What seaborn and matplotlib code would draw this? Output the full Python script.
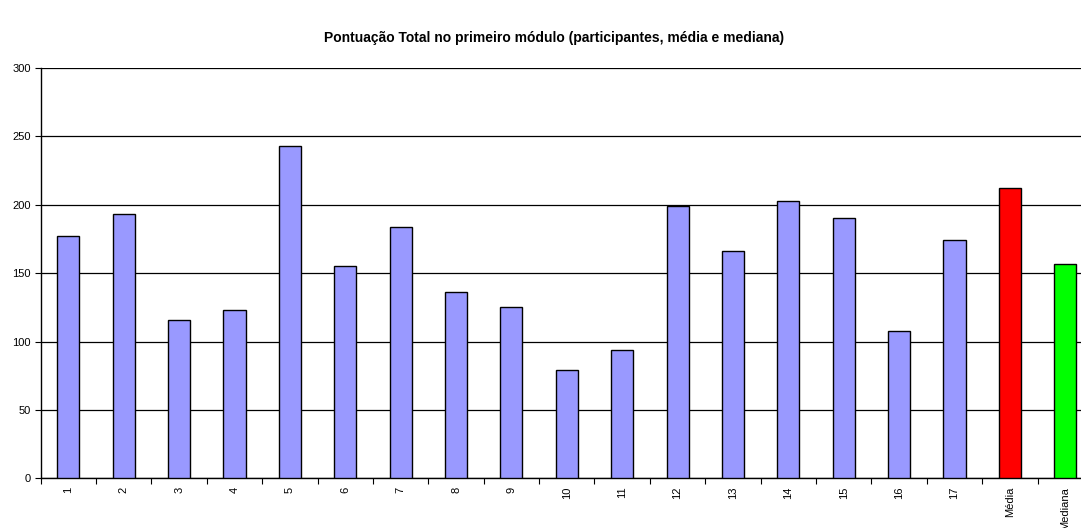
import matplotlib
matplotlib.use("Agg")
import matplotlib.pyplot as plt
import seaborn as sns
import pandas as pd
import numpy as np

# Scores per participant, followed by the summary bars
categorias = [str(i) for i in range(1, 18)] + ["Média", "Mediana"]
pontuacao = [177, 193, 116, 123, 243, 155, 184, 136, 125, 79, 94,
             199, 166, 203, 190, 108, 174, 212, 157]
cores = ["#9999FF"] * 17 + ["#FF0000", "#00FF00"]
yticks = [0, 50, 100, 150, 200, 250, 300]

titulo = "Pontuação Total no primeiro módulo (participantes, média e mediana)"

sns.set_style("white")
plt.rcParams["font.family"] = ["Liberation Sans", "DejaVu Sans"]
plt.rcParams.update({"text.color": "black", "xtick.color": "black",
                     "ytick.color": "black", "axes.labelcolor": "black"})

df = pd.DataFrame({"categoria": categorias, "pontuacao": pontuacao})

fig = plt.figure(figsize=(10.81, 5.28), dpi=100)
W, H = 1081, 528
left, right, top, bottom = 40.6, 1093.0, 68.0, 478.3
ax = fig.add_axes([left / W, (H - bottom) / H, (right - left) / W, (bottom - top) / H])

sns.barplot(data=df, x="categoria", y="pontuacao", hue="categoria",
            palette=cores, legend=False, width=0.4, ax=ax,
            edgecolor="black", linewidth=1.0, saturation=1, zorder=3)

ax.set_xlim(-0.5, len(categorias) - 0.5)
ax.set_ylim(0, 300)
ax.set_yticks(yticks)
ax.set_yticklabels([str(v) for v in yticks], fontsize=8)
ax.yaxis.grid(True, color="black", linewidth=0.9, zorder=0)
ax.set_axisbelow(True)

# Ticks sit between categories; labels are centred on the bars
n = len(categorias)
ax.set_xticks(np.arange(-0.5, n, 1.0))
ax.set_xticklabels([])
ax.set_xticks(np.arange(n), minor=True)
ax.set_xticklabels(categorias, minor=True, rotation=90, fontsize=8)
ax.tick_params(axis="x", which="major", direction="out", length=4, width=0.8,
               color="black", bottom=True)
ax.tick_params(axis="x", which="minor", length=0, pad=6)
ax.tick_params(axis="y", direction="out", length=4, width=0.8, color="black",
               left=True, pad=3)

ax.set_xlabel("")
ax.set_ylabel("")
for s in ["top", "right"]:
    ax.spines[s].set_visible(False)
for s in ["left", "bottom"]:
    ax.spines[s].set_color("black")
    ax.spines[s].set_linewidth(1.0)

fig.text(554.5 / W, 1 - 38 / H, titulo, ha="center", va="center",
         fontsize=10, fontweight="bold", color="black")

fig.savefig("out.png", dpi=100)
